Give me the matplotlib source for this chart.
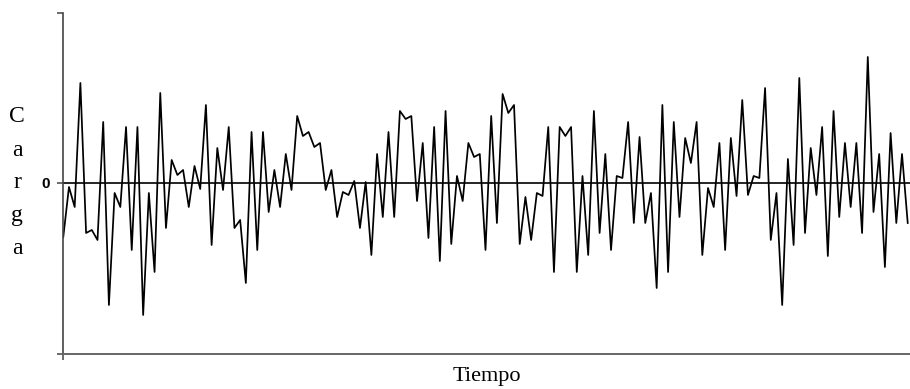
import matplotlib
matplotlib.use("Agg")
import matplotlib.pyplot as plt
import numpy as np

# load signal (uniform time step, zero = centre line)
carga = [
    -54, -4, -24, 100, -50, -47, -57, 61, -122, -10,
    -24, 56, -67, 56, -132, -10, -89, 90, -45, 23,
    8, 13, -24, 17, -6, 78,
    -62, 35, -7, 56, -45, -37, -100, 51, -67, 51,
    -29, 13, -24, 29, -7, 67, 47, 51, 36, 40,
    -7, 13, -34, -9, -12,
    2, -45, 1, -72, 29, -34, 51, -34, 72, 64,
    67, -18, 40, -55, 56, -78, 72, -61, 7, -18,
    40, 26, 29, -67, 67,
    -40, 89, 70, 78, -61, -14, -57, -10, -13, 56,
    -89, 56, 47, 56, -89, 7, -72, 72, -50, 29,
    -67, 7, 5, 61, -40, 46,
    -40, -10, -105, 78, -89, 61, -34, 45, 20, 61,
    -72, -5, -24, 40, -67, 45, -13, 83, -12, 7,
    5, 95, -57, -10, -122,
    24, -62, 105, -50, 35, -12, 56, -73, 72, -34,
    40, -24, 40, -50, 126, -29, 29, -84, 50, -40,
    29, -40,
]
tiempo = np.arange(len(carga))

y_top = 170
y_bottom = -171

fig = plt.figure(figsize=(9.1, 3.89), dpi=100)
ax = fig.add_axes([0.0689, 0.090, 0.9311, 0.8766])

ax.plot(tiempo, carga, color='black', linewidth=1.25)
ax.axhline(0, color='black', linewidth=1.2)

ax.set_xlim(-0.1, len(carga) - 1 + 0.4)
ax.set_ylim(y_bottom, y_top)

for side in ['top', 'right']:
    ax.spines[side].set_visible(False)
ax.spines['left'].set_color('#444444')
ax.spines['bottom'].set_color('#666666')
ax.spines['left'].set_linewidth(1.2)
ax.spines['bottom'].set_linewidth(1.4)

ax.set_yticks([y_bottom, 0, y_top])
ax.set_yticklabels(['', '0', ''], fontdict={'family': 'Liberation Sans',
                                             'weight': 'bold', 'size': 11})
ax.tick_params(axis='y', direction='out', length=4.5, width=1.1,
               color='#444444', pad=5)
ax.set_xticks([ax.get_xlim()[0]])
ax.set_xticklabels([''])
ax.tick_params(axis='x', direction='out', length=4, width=1.1, color='#444444')

ax.set_xlabel('Tiempo', fontdict={'family': 'Liberation Serif', 'size': 16},
              labelpad=2)
fig.text(0.019, 1 - 183 / 389, 'C\na\nr\ng\na', ha='center', va='center',
         family='Liberation Serif', size=17, linespacing=1.75)

fig.savefig('out.png', dpi=100)
